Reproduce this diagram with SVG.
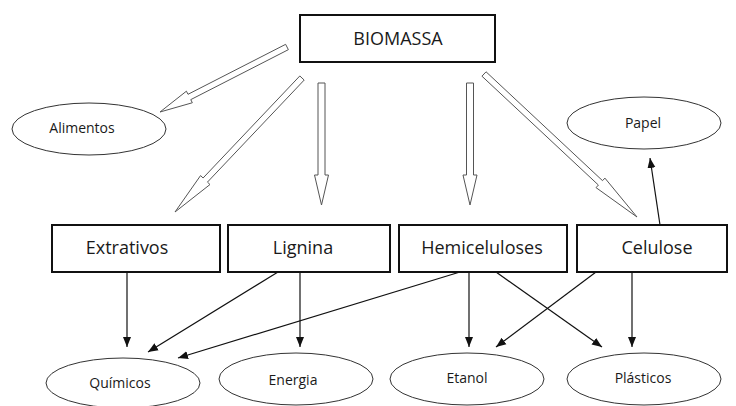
<svg xmlns="http://www.w3.org/2000/svg" width="736" height="406" viewBox="0 0 736 406">
<defs>
<style>
.box{fill:#fff;stroke:#111;stroke-width:2}
.ell{fill:#fff;stroke:#333;stroke-width:1}
.bt{font-family:"Open Sans","Liberation Sans",sans-serif;font-size:18px;fill:#1a1a1a;text-anchor:middle}
.et{font-family:"Open Sans","Liberation Sans",sans-serif;font-size:14px;fill:#1a1a1a;text-anchor:middle}
.hollow{fill:#fff;stroke:#555;stroke-width:1;stroke-linejoin:miter}
.thin{fill:none;stroke:#111;stroke-width:1.2;marker-end:url(#ah)}
</style>
<marker id="ah" markerUnits="userSpaceOnUse" markerWidth="10" markerHeight="10" viewBox="0 0 10 10" refX="10" refY="5" orient="auto">
<path d="M0,1 L10,5 L0,9 Z" fill="#111"/>
</marker>
</defs>
<rect width="736" height="406" fill="#fff"/>
<g id="connectors">
<polygon class="hollow" points="285.63,44.33 188.01,94.30 186.42,91.18 160,112 192.34,102.76 190.75,99.64 288.37,49.67"/>
<polygon class="hollow" points="299.82,75.94 203.09,178.00 200.55,175.59 175,212 209.99,184.53 207.45,182.12 304.18,80.06"/>
<polygon class="hollow" points="318,83 325,83 325,175 328.5,175 321.5,205 314.5,175 318,175"/>
<polygon class="hollow" points="466.5,83 473.5,83 473.5,175 477,175 470,205 463,175 466.5,175"/>
<polygon class="hollow" points="481.95,76.19 598.42,185.05 596.03,187.61 637,217 604.91,178.11 602.52,180.67 486.05,71.81"/>
<line class="thin" x1="660" y1="225" x2="650" y2="158"/>
<line class="thin" x1="127" y1="272" x2="127" y2="347"/>
<line class="thin" x1="278" y1="272" x2="148" y2="352"/>
<line class="thin" x1="460" y1="272" x2="178" y2="358"/>
<line class="thin" x1="300" y1="272" x2="300" y2="347"/>
<line class="thin" x1="469" y1="272" x2="469" y2="347"/>
<line class="thin" x1="496" y1="272" x2="602" y2="347"/>
<line class="thin" x1="596" y1="272" x2="496" y2="347"/>
<line class="thin" x1="632" y1="272" x2="632" y2="347"/>
</g>
<g id="biomassa"><rect class="box" x="300" y="15" width="195" height="47"/><text class="bt" x="398" y="45">BIOMASSA</text></g>
<g id="alimentos"><ellipse class="ell" cx="89" cy="129" rx="77" ry="26"/><text class="et" x="82" y="133">Alimentos</text></g>
<g id="papel"><ellipse class="ell" cx="644" cy="123" rx="77" ry="26"/><text class="et" x="643" y="128">Papel</text></g>
<g id="extrativos"><rect class="box" x="52" y="225" width="168" height="47"/><text class="bt" x="127" y="254">Extrativos</text></g>
<g id="lignina"><rect class="box" x="228" y="225" width="162" height="47"/><text class="bt" x="303" y="254">Lignina</text></g>
<g id="hemiceluloses"><rect class="box" x="399" y="225" width="168" height="47"/><text class="bt" x="482" y="254">Hemiceluloses</text></g>
<g id="celulose"><rect class="box" x="577" y="225" width="150" height="47"/><text class="bt" x="657" y="254">Celulose</text></g>
<g id="quimicos"><ellipse class="ell" cx="123" cy="383" rx="77" ry="25"/><text class="et" x="120" y="388">Químicos</text></g>
<g id="energia"><ellipse class="ell" cx="296" cy="379" rx="77" ry="26"/><text class="et" x="293" y="385">Energia</text></g>
<g id="etanol"><ellipse class="ell" cx="467" cy="379" rx="77" ry="26"/><text class="et" x="467" y="383">Etanol</text></g>
<g id="plasticos"><ellipse class="ell" cx="644" cy="379" rx="77" ry="26"/><text class="et" x="643" y="383">Plásticos</text></g>
</svg>
